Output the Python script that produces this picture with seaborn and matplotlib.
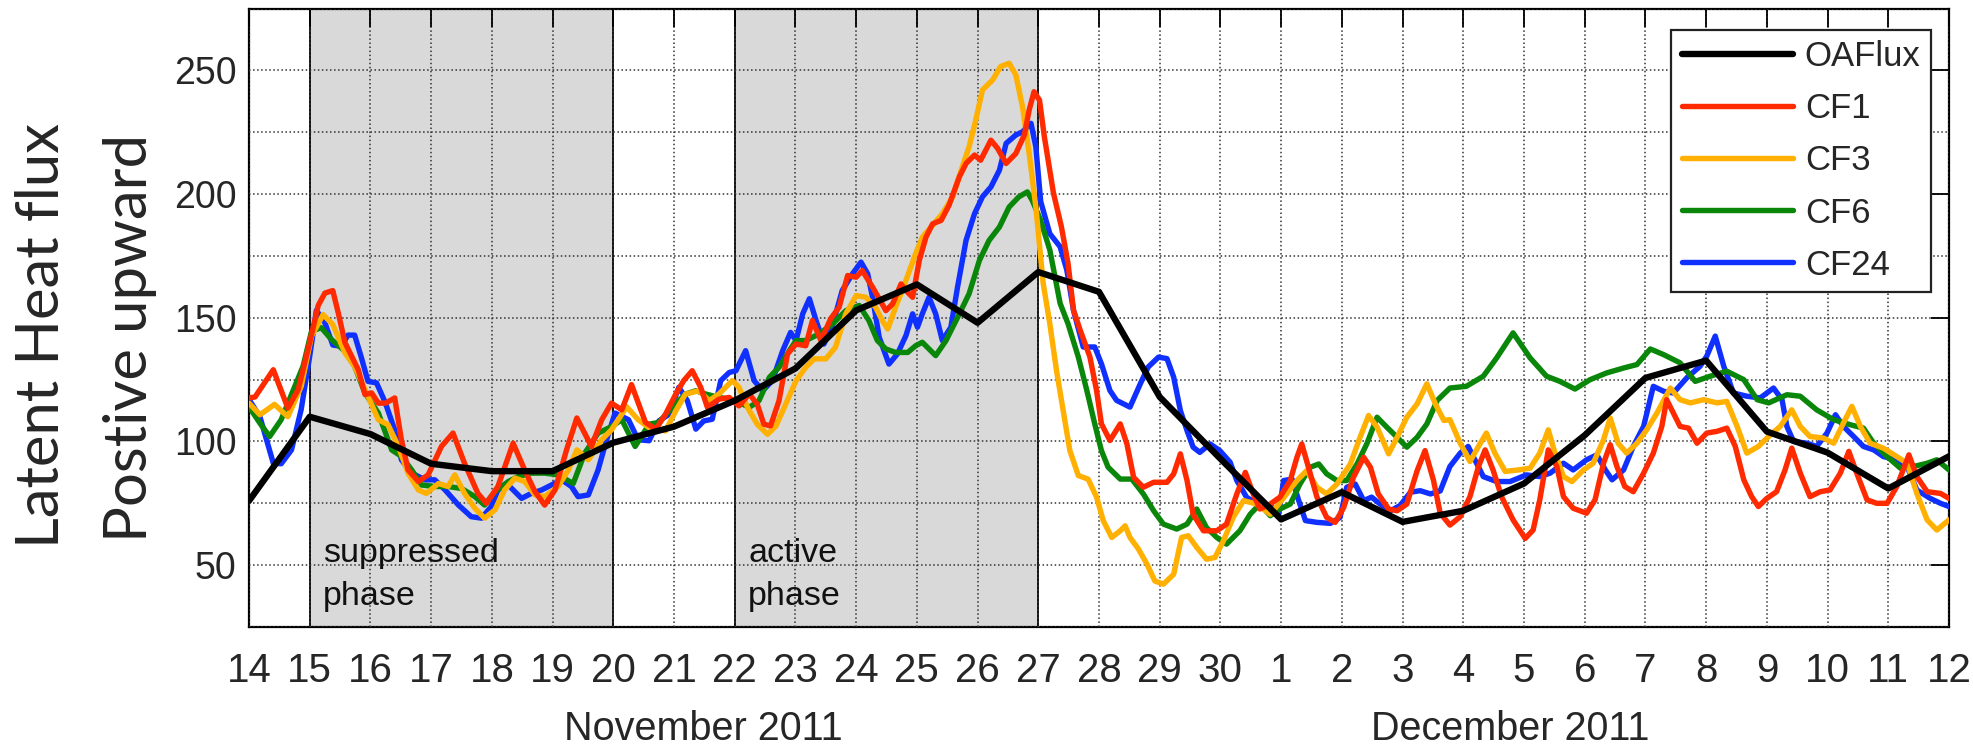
import matplotlib
matplotlib.use("Agg")
import matplotlib.pyplot as plt
import seaborn as sns
import pandas as pd
from matplotlib.ticker import MultipleLocator, FixedLocator

# ---------------- data (x = days since 14 Nov 2011) ----------------
tick_labels = ["14", "15", "16", "17", "18", "19", "20", "21", "22", "23", "24",
               "25", "26", "27", "28", "29", "30", "1", "2", "3", "4", "5", "6",
               "7", "8", "9", "10", "11", "12"]

oaflux_day = list(range(29))
oaflux_val = [76, 110, 103, 91, 88, 88, 99.5, 106, 116.5, 129.5, 153, 163.5, 148,
              168.5, 160.5, 118, 93, 68.5, 79.5, 67.5, 72, 83, 102.5, 125.7, 132.7,
              104, 95.5, 81, 94]

cf1_day = [0.0, 0.1, 0.4, 0.64, 0.81, 1.0, 1.14, 1.25, 1.38, 1.47, 1.58, 1.8, 1.91, 2.02,
           2.13, 2.25, 2.4, 2.51, 2.62, 2.79, 2.95, 3.17, 3.36, 3.55, 3.77, 3.91, 4.1,
           4.35, 4.54, 4.71, 4.87, 5.04, 5.23, 5.4, 5.64, 5.81, 5.97, 6.14, 6.3, 6.53,
           6.7, 6.86, 7.03, 7.16, 7.3, 7.44, 7.55, 7.74, 7.91, 8.07, 8.24, 8.37, 8.48,
           8.59, 8.73, 8.87, 9.01, 9.17, 9.28, 9.42, 9.58, 9.72, 9.86, 10.0, 10.1,
           10.27, 10.49, 10.6, 10.74, 10.82, 10.93, 11.04, 11.15, 11.26, 11.4, 11.53,
           11.7, 11.81, 11.95, 12.05, 12.22, 12.33, 12.47, 12.63, 12.77, 12.85, 12.93,
           13.02, 13.1, 13.25, 13.38, 13.49, 13.58, 13.69, 13.85, 13.96, 14.04, 14.18,
           14.35, 14.46, 14.57, 14.73, 14.9, 15.12, 15.23, 15.34, 15.45, 15.55, 15.72,
           15.94, 16.1, 16.27, 16.41, 16.54, 16.65, 16.82, 16.98, 17.15, 17.26, 17.34,
           17.45, 17.59, 17.75, 17.89, 18.03, 18.19, 18.36, 18.47, 18.6, 18.77, 18.91,
           19.07, 19.24, 19.37, 19.51, 19.62, 19.78, 19.95, 20.11, 20.25, 20.36, 20.49,
           20.63, 20.82, 21.02, 21.15, 21.26, 21.4, 21.54, 21.65, 21.81, 22.03, 22.17,
           22.31, 22.42, 22.53, 22.66, 22.8, 22.97, 23.13, 23.27, 23.35, 23.46, 23.57,
           23.71, 23.85, 24.01, 24.18, 24.34, 24.48, 24.62, 24.75, 24.86, 25.0, 25.16,
           25.3, 25.41, 25.55, 25.71, 25.88, 26.04, 26.21, 26.35, 26.48, 26.65, 26.81,
           26.98, 27.14, 27.34, 27.47, 27.64, 27.86, 28.0]
cf1_val = [117.6, 118, 129, 113.5, 121, 140, 155, 160, 161, 152, 140, 129, 119, 119.6,
           115.5, 115.5, 117.6, 100.7, 88.5, 83.8, 86.5, 98, 103.4, 91.2, 79, 75, 81.8,
           99.3, 88.5, 79.7, 74.3, 80.4, 96.6, 109.5, 98, 108.8, 115.5, 112.8, 123, 107.7,
           105, 111, 119.2, 124.6, 128.6, 121.9, 113.8, 117.1, 117.8, 114.4, 119.2, 115.1, 107,
           106.3, 116.5, 135.4, 139.4, 138.7, 148.9, 140.8, 149.6, 154.3, 167.1, 166.4, 169.1,
           162.4, 152.9, 155.6, 163.7, 161, 158.3, 173.2, 182.6, 188, 189.4, 195.5,
           207, 212.4, 215.8, 213.7, 221.8, 218.5, 212.4, 216.4, 223.9, 234, 241.4,
           238, 223.2, 200.4, 186.9, 172, 153.1, 145, 134.2, 120.6, 107.1, 100.4,
           107.1, 99, 85.5, 81.5, 83.5, 83.5, 86.9, 95, 84.2, 70.6, 63.9,
           63.9, 66.6, 78.8, 87.5, 78.8, 72.7, 74.7, 77.5, 84.2, 93.6, 99,
           89.6, 77.5, 69.3, 67.3, 73.3, 85.5, 93.6, 89.6, 78.8, 72.7, 72,
           74.7, 88.2, 96.3, 84.2, 71, 66.2, 69.6, 77.7, 89.9, 96.6, 88.5,
           77.7, 68.3, 60.8, 64.2, 76.4, 96.6, 89.9, 77.7, 73, 71, 76.4,
           91.2, 98.7, 89.9, 81.8, 79.7, 87.2, 95.3, 106.1, 116.9, 111.5, 106.1,
           105.4, 99.3, 103.4, 104.1, 105.4, 98, 84.5, 77.7, 73.7, 77, 79.7,
           88.5, 97.3, 87.2, 77.7, 79.7, 80.4, 87.2, 96, 87.2, 76.4, 75,
           75, 81.8, 94.6, 85.8, 79.7, 79, 77]

cf3_day = [0.0, 0.18, 0.42, 0.64, 0.86, 1.03, 1.22, 1.38, 1.58, 1.74, 1.91, 2.13, 2.29,
           2.46, 2.62, 2.79, 2.92, 3.12, 3.28, 3.39, 3.55, 3.72, 3.88, 4.05, 4.21, 4.38,
           4.54, 4.71, 4.87, 5.09, 5.26, 5.4, 5.59, 5.81, 5.97, 6.22, 6.41, 6.59, 6.86,
           7.03, 7.19, 7.41, 7.58, 7.74, 7.96, 8.07, 8.21, 8.37, 8.54, 8.68, 8.84, 9.01,
           9.17, 9.31, 9.5, 9.66, 9.83, 10.0, 10.16, 10.32, 10.43, 10.52, 10.65, 10.82,
           10.98, 11.09, 11.26, 11.42, 11.59, 11.73, 11.86, 11.97, 12.08, 12.25, 12.38,
           12.52, 12.63, 12.74, 12.85, 12.96, 13.08, 13.19, 13.3, 13.41, 13.52, 13.66,
           13.82, 13.96, 14.07, 14.21, 14.35, 14.43, 14.51, 14.65, 14.79, 14.92, 15.06,
           15.23, 15.36, 15.47, 15.61, 15.77, 15.91, 16.05, 16.21, 16.38, 16.6, 16.82,
           16.96, 17.09, 17.26, 17.42, 17.59, 17.75, 17.92, 18.14, 18.3, 18.44, 18.58,
           18.77, 18.91, 19.07, 19.24, 19.4, 19.54, 19.68, 19.78, 19.95, 20.11, 20.25,
           20.38, 20.52, 20.69, 20.91, 21.1, 21.26, 21.4, 21.51, 21.65, 21.79, 21.98,
           22.14, 22.31, 22.42, 22.55, 22.69, 22.86, 23.02, 23.19, 23.41, 23.57, 23.74,
           23.96, 24.18, 24.34, 24.51, 24.67, 24.86, 25.03, 25.22, 25.41, 25.55, 25.71,
           25.93, 26.1, 26.26, 26.4, 26.54, 26.7, 26.92, 27.14, 27.31, 27.47, 27.64,
           27.8, 28.0]
cf3_val = [115.5, 110.8, 115, 110, 122.3, 142.6, 151.3, 147.3, 135.8, 130.4, 121, 108.8, 106.8,
           98, 87.2, 80.4, 79, 83, 81.8, 86.5, 79, 73, 69, 72.3, 80.4, 85.2,
           83.8, 78.4, 77.7, 81.8, 88.5, 96.6, 92.6, 100.7, 104.7, 114, 108.8, 105.6, 104.3,
           112.4, 119.2, 120.5, 116.5, 119.2, 124.6, 121.9, 113.8, 107, 102.9, 106.3, 115.1, 124.6,
           130, 133.4, 133.4, 138.1, 151.6, 159, 158.3, 154.3, 148.9, 145.5, 154.3, 165.1,
           175.9, 182.6, 187.4, 192.1, 198.9, 209.7, 219.1, 229.9, 242.1, 246.2, 251.6,
           252.9, 248.2, 235.4, 216.4, 194.8, 164, 147.6, 128.7, 112.5, 96.3, 86.2,
           84.8, 77.5, 68, 61.2, 63.9, 65.9, 61.2, 56.5, 50.4, 43.6, 42.3,
           46.3, 61.2, 61.9, 57.2, 52.4, 53.1, 59.9, 69.3, 76.1, 74.7, 70.6,
           74.7, 78.8, 84.2, 88.2, 81.5, 78.8, 82.8, 90.9, 101.7, 110.5, 105.8,
           95, 101.7, 109.8, 115.2, 123.3, 115.2, 108.5, 108.8, 99.3, 91.9, 98,
           103.4, 95.3, 87.9, 88.5, 89.2, 95.3, 104.7, 95.3, 85.8, 83.8, 88.5,
           91.2, 100.7, 109.5, 99.3, 95.3, 99.3, 104.7, 111.5, 121.6, 116.9, 115.6,
           116.9, 115.6, 116.2, 106.1, 95.3, 98, 102, 106.1, 112.8, 106.1, 102,
           101.4, 99.3, 107.4, 114.2, 106.1, 99.3, 97.3, 93.9, 91.2, 79, 68.3,
           64.2, 68.3]

cf6_day = [0.0, 0.18, 0.34, 0.53, 0.7, 0.89, 1.03, 1.19, 1.36, 1.58, 1.74, 1.91, 2.13,
           2.35, 2.51, 2.68, 2.84, 3.06, 3.28, 3.5, 3.72, 3.88, 4.05, 4.27, 4.43, 4.65,
           4.87, 5.09, 5.34, 5.53, 5.75, 5.97, 6.14, 6.36, 6.59, 6.75, 6.97, 7.19, 7.36,
           7.52, 7.74, 7.91, 8.07, 8.24, 8.4, 8.57, 8.73, 8.9, 9.01, 9.17, 9.39, 9.61,
           9.83, 10.05, 10.21, 10.35, 10.49, 10.65, 10.85, 10.98, 11.09, 11.2, 11.31,
           11.48, 11.7, 11.86, 12.03, 12.19, 12.36, 12.52, 12.68, 12.82, 12.9, 13.03,
           13.19, 13.36, 13.49, 13.66, 13.8, 13.93, 14.04, 14.15, 14.35, 14.54, 14.73,
           14.9, 15.06, 15.28, 15.45, 15.61, 15.77, 15.94, 16.1, 16.32, 16.49, 16.65,
           16.82, 16.98, 17.15, 17.31, 17.48, 17.62, 17.75, 17.92, 18.08, 18.25, 18.41,
           18.58, 18.74, 18.91, 19.07, 19.24, 19.4, 19.57, 19.78, 20.05, 20.33, 20.55,
           20.82, 21.1, 21.37, 21.59, 21.84, 22.09, 22.36, 22.64, 22.86, 23.08, 23.3,
           23.57, 23.82, 24.07, 24.34, 24.62, 24.84, 25.03, 25.33, 25.55, 25.82, 26.1,
           26.37, 26.59, 26.76, 26.98, 27.2, 27.42, 27.64, 27.8, 28.0]
cf6_val = [114, 107.4, 102, 108.8, 119, 130.4, 144.6, 146, 141.2, 136.5, 130.4, 119.6, 111.5,
           96.6, 94, 88.5, 82.4, 81.8, 81.8, 81, 77.7, 74.3, 79.7, 83.8, 85.8, 87.2,
           87.2, 86.5, 83, 95.3, 103.4, 106, 108.8, 98, 107, 107.7, 113.8, 119.2, 120.5,
           119.2, 117.8, 117.1, 115.8, 113.8, 116.5, 125.9, 130, 136.7, 140.8, 140.8, 143.5, 147.5,
           152.9, 155, 148.9, 140.8, 137.4, 136, 136, 138.7, 140.1, 137.4, 134.7,
           140.8, 151.6, 159.7, 173.2, 181.3, 186.7, 194.8, 198.9, 200.9, 197.5, 190,
           177.4, 155.8, 147.6, 134.1, 120.6, 107.1, 96.3, 89.6, 84.8, 84.8, 78.8,
           72, 66.6, 64.6, 66.6, 72.7, 65.2, 61.2, 58.5, 63.9, 70.6, 74.7,
           70, 72.7, 74.7, 82.8, 89.6, 90.9, 86.9, 84.2, 84.2, 90.9, 99,
           109.8, 105.8, 101.7, 97.7, 101.7, 107.1, 116.6, 121.6, 122.3, 126.4, 133.8,
           143.9, 133.8, 126.4, 124.3, 121.2, 125, 127.7, 129.7, 131.1, 137.4, 135.1,
           131.8, 124.3, 126.4, 128.4, 125, 116.9, 115.6, 118.9, 118.3, 112.8, 108.8,
           106.8, 105.4, 99.3, 93.9, 89.2, 89.9, 91.2, 92.6, 88.5]

cf24_day = [0.0, 0.18, 0.4, 0.53, 0.7, 0.86, 1.0, 1.11, 1.25, 1.38, 1.52, 1.63, 1.74,
            1.85, 1.96, 2.1, 2.24, 2.4, 2.51, 2.68, 2.9, 3.06, 3.23, 3.45, 3.66, 3.83,
            3.99, 4.1, 4.27, 4.49, 4.65, 4.82, 4.98, 5.15, 5.31, 5.42, 5.59, 5.75, 5.89,
            6.03, 6.25, 6.41, 6.59, 6.75, 6.92, 7.08, 7.22, 7.36, 7.49, 7.63, 7.77, 7.91,
            8.02, 8.18, 8.32, 8.46, 8.62, 8.79, 8.92, 9.01, 9.12, 9.23, 9.34, 9.47, 9.61,
            9.77, 9.94, 10.08, 10.19, 10.27, 10.38, 10.54, 10.68, 10.82, 10.93, 11.01,
            11.09, 11.2, 11.31, 11.42, 11.56, 11.67, 11.81, 11.95, 12.08, 12.22, 12.36,
            12.47, 12.63, 12.74, 12.88, 12.96, 13.04, 13.19, 13.36, 13.47, 13.58, 13.74,
            13.93, 14.04, 14.18, 14.29, 14.51, 14.68, 14.81, 14.98, 15.12, 15.23, 15.34,
            15.45, 15.55, 15.66, 15.83, 15.99, 16.16, 16.27, 16.43, 16.6, 16.82, 16.96,
            17.04, 17.18, 17.29, 17.4, 17.59, 17.81, 17.97, 18.08, 18.22, 18.36, 18.49,
            18.63, 18.8, 18.96, 19.13, 19.29, 19.46, 19.62, 19.78, 19.95, 20.08, 20.22,
            20.33, 20.55, 20.77, 21.04, 21.26, 21.43, 21.65, 21.81, 22.03, 22.2, 22.34,
            22.45, 22.64, 22.8, 22.97, 23.13, 23.3, 23.46, 23.68, 23.9, 24.01, 24.15,
            24.29, 24.45, 24.67, 24.89, 25.11, 25.25, 25.33, 25.44, 25.66, 25.82, 25.99,
            26.13, 26.26, 26.43, 26.59, 26.76, 26.92, 27.14, 27.31, 27.47, 27.69, 27.86,
            28.0]
cf24_val = [117, 110, 91.2, 91, 96.6, 113, 134.5, 153, 148, 139, 138.5, 143, 143,
            134, 124.3, 123.7, 116, 104.7, 92.6, 87.2, 84.5, 84.5, 80.4, 74.3, 69.6, 69,
            73.7, 80.4, 82.4, 77, 79, 80.4, 82.4, 84.5, 81.8, 77.7, 78.4, 88.5, 100.7,
            111.5, 108.8, 100.7, 100.3, 108.3, 111, 121.9, 116.5, 105, 108.3, 109, 124.6, 127.9,
            128.6, 136.7, 124.6, 120.5, 124.6, 136.7, 144.1, 140.8, 151.6, 157.7, 148.9, 139.4, 146.9,
            161, 167.8, 172.5, 167.8, 158.3, 142.1, 131.3, 135.4, 142.8, 151.6, 146.2,
            151.6, 158.3, 151.6, 140.8, 146.2, 162.4, 181.3, 192.1, 198.9, 202.9, 209.7,
            220.5, 223.9, 225.2, 228.6, 219.1, 197, 184, 178.7, 169.3, 153, 138.2,
            138.2, 131.4, 120.6, 116.6, 113.9, 123.3, 130.1, 134.1, 133.5, 126, 112.5,
            104.4, 97.7, 95.6, 99, 96.3, 91.6, 84.2, 77.5, 74.7, 74.1, 70.6,
            84.2, 84.8, 76.1, 68, 67.3, 66.9, 69.3, 81.5, 82.8, 76.1, 77.5,
            74.7, 72, 74.1, 79.5, 80.1, 78.8, 80, 89.9, 95.3, 98, 91.2,
            85.8, 83.8, 83.8, 86.5, 85.8, 87.2, 91.2, 88.5, 92.6, 94.6, 88.5,
            84.5, 88.5, 98, 106.1, 122.3, 120.3, 119.6, 125.7, 130.4, 134.5, 142.6,
            130.4, 119.6, 118.3, 117.6, 121.6, 116.9, 106.1, 100, 99.3, 98, 103.4,
            110.8, 106.1, 102, 98, 96.6, 93.9, 92.6, 89.9, 80.4, 77, 75,
            73.7]

phase_spans = [(1, 6), (8, 13)]
phase_names = ["suppressed\nphase", "active\nphase"]
series_names = ["OAFlux", "CF1", "CF3", "CF6", "CF24"]

# ---------------- figure ----------------
sns.set_style("white")
plt.rcParams["font.family"] = ["Liberation Sans", "DejaVu Sans"]

fig = plt.figure(figsize=(19.74, 7.52), dpi=100)
ax = fig.add_axes([249 / 1974, 1 - 627 / 752, 1700 / 1974, 618.4 / 752])

for (x0, x1) in phase_spans:
    ax.axvspan(x0, x1, color="#d9d9d9", lw=0, zorder=0.5)
    ax.axvline(x0, color="#111111", lw=1.4, zorder=1.6)
    ax.axvline(x1, color="#111111", lw=1.4, zorder=1.6)

colors = {"OAFlux": "black", "CF1": "#ff2a00", "CF3": "#ffb000",
          "CF6": "#0a870a", "CF24": "#1030ff"}
data = {
    "OAFlux": (oaflux_day, oaflux_val),
    "CF1": (cf1_day, cf1_val),
    "CF3": (cf3_day, cf3_val),
    "CF6": (cf6_day, cf6_val),
    "CF24": (cf24_day, cf24_val),
}
zorders = {"CF24": 3, "CF6": 3.1, "CF3": 3.2, "CF1": 3.3, "OAFlux": 3.5}
widths = {"OAFlux": 4.6, "CF1": 3.9, "CF3": 3.9, "CF6": 3.9, "CF24": 3.9}

for name in ["CF24", "CF6", "CF3", "CF1", "OAFlux"]:
    xs, ys = data[name]
    df = pd.DataFrame({"day": xs, "flux": ys})
    sns.lineplot(data=df, x="day", y="flux", ax=ax, color=colors[name],
                 lw=widths[name], label=name, estimator=None, sort=False,
                 zorder=zorders[name])

ax.set_xlim(0, 28)
ax.set_ylim(25, 275)
ax.xaxis.set_major_locator(FixedLocator(list(range(29))))
ax.set_xticklabels(tick_labels)
ax.yaxis.set_major_locator(MultipleLocator(50))
ax.yaxis.set_minor_locator(MultipleLocator(25))
ax.set_axisbelow(False)
ax.grid(True, which="both", axis="both", ls=":", color="#333333", lw=1.1)
ax.tick_params(axis="both", which="major", direction="in", top=True, right=True,
               length=13, width=1.3, color="black")
ax.tick_params(axis="y", which="minor", length=0)
ax.tick_params(axis="x", labelsize=29, pad=18)
ax.tick_params(axis="y", labelsize=27, pad=9)
for s in ax.spines.values():
    s.set_visible(True)
    s.set_color("black")
    s.set_linewidth(1.6)
ax.set_xlabel("")
ax.set_ylabel("")

for (x0, _), txt in zip(phase_spans, phase_names):
    ax.text(x0 + 0.22, 61, txt, fontsize=24.5, ha="left", va="top",
            linespacing=1.5, color="#111111", zorder=4)

fig.text(703 / 1974, 1 - 729 / 752, "November 2011", fontsize=28.5, ha="center", va="center")
fig.text(1510 / 1974, 1 - 729 / 752, "December 2011", fontsize=28.5, ha="center", va="center")

fig.text(42 / 1974, 1 - 335 / 752, "Latent Heat flux", rotation=90, fontsize=43,
         ha="center", va="center", family=["Lato", "DejaVu Sans"])
fig.text(130 / 1974, 1 - 338 / 752, "Postive upward", rotation=90, fontsize=43,
         ha="center", va="center", family=["Lato", "DejaVu Sans"])

handles, labels = ax.get_legend_handles_labels()
order = [labels.index(n) for n in series_names]
leg = ax.legend([handles[i] for i in order], [labels[i] for i in order],
                loc="upper right", bbox_to_anchor=(0.9894, 0.9657), borderaxespad=0,
                fontsize=25, frameon=True, fancybox=False, framealpha=1,
                edgecolor="#222222", handlelength=3.2, handletextpad=0.35,
                labelspacing=0.55, borderpad=0.3)
leg.get_frame().set_linewidth(1.6)
leg.set_zorder(5)

fig.savefig("out.png", dpi=100)
